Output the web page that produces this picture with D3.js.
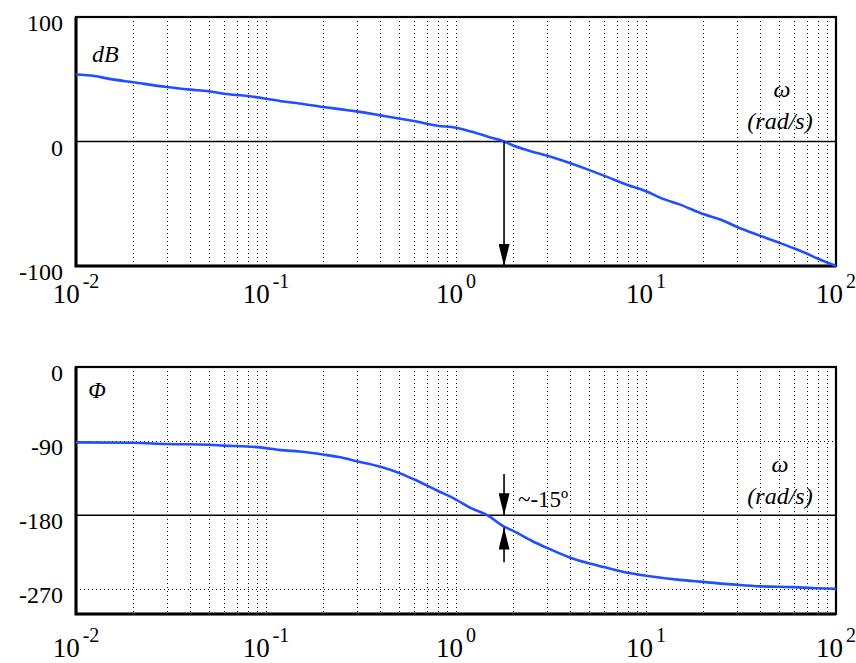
<!DOCTYPE html>
<html>
<head>
<meta charset="utf-8">
<script src="https://cdn.jsdelivr.net/npm/d3@7"></script>
<style>
  body { margin: 0; background: #fff; }
  svg { display: block; }
  svg text { font-family: "Times New Roman", "Liberation Serif", Tinos, serif; }
</style>
</head>
<body>
<svg id="chart" width="856" height="663"></svg>
<script>
// magnitude curve
const magOmega = [0.01, 0.0125, 0.015, 0.02, 0.03, 0.04, 0.05, 0.06, 0.08, 0.1, 0.12, 0.15, 0.2, 0.25, 0.3, 0.4, 0.5, 0.6, 0.8, 1.0, 1.2, 1.5, 1.79, 2, 2.5, 3, 4, 5, 6, 8, 10, 12, 15, 20, 25, 30, 40, 50, 60, 70, 80, 100];
const magDb = [53.8, 52.6, 50.3, 47.6, 43.8, 41.7, 40.3, 38.4, 36.5, 34.4, 32.4, 30.5, 27.7, 25.8, 24.2, 21, 18.5, 16.4, 12.7, 11, 8, 3.5, 0, -3.2, -8, -11.3, -17.5, -22.8, -27.4, -34.9, -40, -45.5, -50.5, -58.3, -63, -68.5, -75.8, -81.2, -85.8, -90, -94, -100];

// phase curve
const phOmega = [0.01, 0.02, 0.03, 0.05, 0.06, 0.08, 0.1, 0.12, 0.15, 0.2, 0.25, 0.3, 0.4, 0.5, 0.6, 0.8, 1.0, 1.2, 1.46, 1.79, 2, 2.5, 3, 4, 5, 6, 8, 10, 15, 20, 30, 40, 60, 80, 100];
const phDeg = [-91.5, -92, -93.5, -94.5, -95.5, -96.5, -98.5, -101, -102.6, -106.3, -110, -114.4, -121.3, -128.6, -136.4, -150.3, -161, -171.5, -180, -194, -199, -211, -219.5, -231.6, -238.5, -243, -250, -253.5, -258.5, -261, -264.5, -266.4, -267.3, -268.8, -269.3];

const decades = [-2, -1, 0, 1, 2];
const magTicks = [100, 0, -100];
const phaseTicks = [0, -90, -180, -270];
const crossOmega = 1.79;
const phaseAtCross = -195;

const blue = '#1f4fff';
const serif = '"Times New Roman", "Liberation Serif", Tinos, serif';

const svg = d3.select('#chart').attr('font-family', serif);

const x = d3.scaleLog().domain([0.01, 100]).range([76, 836]);
const yMag = d3.scaleLinear().domain([-100, 100]).range([266, 17]);
const yPh = d3.scaleLinear().domain([-300, 0]).range([614, 367]);

// snap a 1px line to the pixel grid
const px = (v) => Math.round(v) + 0.5;

// minor grid values 2..9 in every decade, plus the inner decade lines
const minor = [];
decades.slice(0, -1).forEach((e) => {
  for (let k = 2; k <= 9; k++) minor.push(k * Math.pow(10, e));
});
const major = [0.1, 1, 10];

const defs = svg.append('defs');
defs.append('marker')
    .attr('id', 'head')
    .attr('viewBox', '0 0 22 11')
    .attr('refX', 22)
    .attr('refY', 5.5)
    .attr('markerWidth', 22)
    .attr('markerHeight', 11)
    .attr('markerUnits', 'userSpaceOnUse')
    .attr('orient', 'auto')
  .append('path')
    .attr('d', 'M0,0 L22,5.5 L0,11 Z')
    .attr('fill', '#000');

function drawPanel(y, ticks, dottedRows, solidRows, labelRow) {
  const g = svg.append('g');
  const [y0, y1] = y.range();

  g.selectAll('.vgrid')
    .data(minor.concat(major))
    .enter().append('line')
      .attr('x1', (d) => px(x(d))).attr('x2', (d) => px(x(d)))
      .attr('y1', y1).attr('y2', y0)
      .attr('stroke', '#000')
      .attr('stroke-width', 1)
      .attr('stroke-dasharray', '1,3')
      .attr('shape-rendering', 'crispEdges');

  g.selectAll('.hdot')
    .data(dottedRows)
    .enter().append('line')
      .attr('x1', x.range()[0]).attr('x2', x.range()[1])
      .attr('y1', (d) => px(y(d))).attr('y2', (d) => px(y(d)))
      .attr('stroke', '#000')
      .attr('stroke-width', 1)
      .attr('stroke-dasharray', '1,3')
      .attr('shape-rendering', 'crispEdges');

  g.selectAll('.hsolid')
    .data(solidRows)
    .enter().append('line')
      .attr('x1', x.range()[0]).attr('x2', x.range()[1])
      .attr('y1', (d) => y(d)).attr('y2', (d) => y(d))
      .attr('stroke', '#000')
      .attr('stroke-width', 1.5);

  // frame
  g.append('rect')
    .attr('x', x.range()[0]).attr('y', y1)
    .attr('width', x.range()[1] - x.range()[0])
    .attr('height', y0 - y1)
    .attr('fill', 'none')
    .attr('stroke', '#000')
    .attr('stroke-width', 2.2);
  g.append('path')
    .attr('d', 'M' + x.range()[0] + ',' + y1 + 'V' + y0 + 'H' + x.range()[1])
    .attr('fill', 'none')
    .attr('stroke', '#000')
    .attr('stroke-width', 3);

  // y labels
  g.selectAll('.ylab')
    .data(ticks)
    .enter().append('text')
      .attr('x', 63)
      .attr('y', (d) => y(d) + 14)
      .attr('text-anchor', 'end')
      .attr('font-family', serif)
      .attr('font-size', 24)
      .text((d) => d);

  // x labels 10^n
  const xl = g.selectAll('.xlab')
    .data(decades)
    .enter().append('text')
      .attr('x', (d) => x(Math.pow(10, d)))
      .attr('y', labelRow)
      .attr('text-anchor', 'middle')
      .attr('font-family', serif)
      .attr('font-size', 27);
  xl.append('tspan').text('10');
  xl.append('tspan')
    .attr('dx', 3)
    .attr('dy', -15)
    .attr('font-size', 20)
    .text((d) => d);

  return g;
}

function label(g, txt, lx, ly, size, anchor) {
  g.append('text')
    .attr('x', lx).attr('y', ly)
    .attr('text-anchor', anchor || 'start')
    .attr('font-family', serif)
    .attr('font-size', size)
    .attr('font-style', 'italic')
    .text(txt);
}

// ---- magnitude panel
const magPanel = drawPanel(yMag, magTicks, [], [0], 303);

magPanel.append('path')
  .datum(magOmega.map((w, i) => [w, magDb[i]]))
  .attr('d', d3.line().x((d) => x(d[0])).y((d) => yMag(d[1])).curve(d3.curveMonotoneX))
  .attr('fill', 'none')
  .attr('stroke', blue)
  .attr('stroke-width', 2.6);

magPanel.append('line')
  .attr('x1', x(crossOmega)).attr('x2', x(crossOmega))
  .attr('y1', yMag(0)).attr('y2', yMag(-100))
  .attr('stroke', '#000')
  .attr('stroke-width', 1.6)
  .attr('marker-end', 'url(#head)');

label(magPanel, 'dB', 92, 62, 24);
label(magPanel, 'ω', 782, 97, 24, 'middle');
label(magPanel, '(rad/s)', 780, 129, 24, 'middle');

// ---- phase panel
const phasePanel = drawPanel(yPh, phaseTicks, [-90, -270], [-180], 657);

phasePanel.append('path')
  .datum(phOmega.map((w, i) => [w, phDeg[i]]))
  .attr('d', d3.line().x((d) => x(d[0])).y((d) => yPh(d[1])).curve(d3.curveMonotoneX))
  .attr('fill', 'none')
  .attr('stroke', blue)
  .attr('stroke-width', 2.6);

// ~-15 deg arrows
phasePanel.append('line')
  .attr('x1', x(crossOmega)).attr('x2', x(crossOmega))
  .attr('y1', yPh(-130)).attr('y2', yPh(-180))
  .attr('stroke', '#000')
  .attr('stroke-width', 1.6)
  .attr('marker-end', 'url(#head)');
phasePanel.append('line')
  .attr('x1', x(crossOmega)).attr('x2', x(crossOmega))
  .attr('y1', yPh(-237)).attr('y2', yPh(phaseAtCross))
  .attr('stroke', '#000')
  .attr('stroke-width', 1.6)
  .attr('marker-end', 'url(#head)');

phasePanel.append('text')
  .attr('x', 518).attr('y', 507)
  .attr('font-family', serif)
  .attr('font-size', 23)
  .text('~-15º');

label(phasePanel, 'Φ', 97, 398, 23, 'middle');
label(phasePanel, 'ω', 780, 472, 24, 'middle');
label(phasePanel, '(rad/s)', 780, 504, 24, 'middle');
</script>
</body>
</html>
